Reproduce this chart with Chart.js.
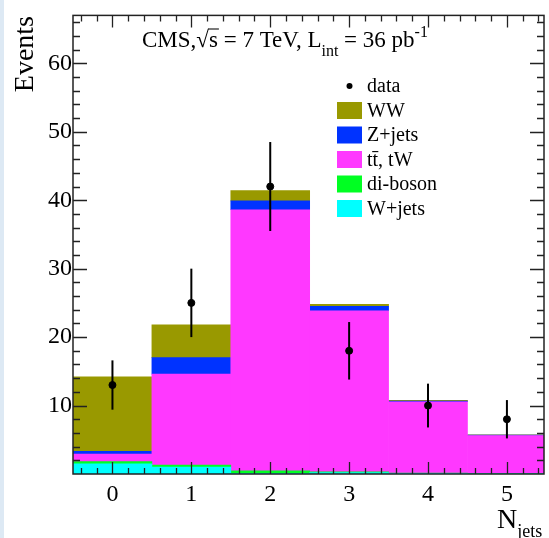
<!DOCTYPE html>
<html lang="en">
<head>
  <meta charset="UTF-8">
  <title>CMS N_jets distribution</title>
  <script src="https://cdn.jsdelivr.net/npm/chart.js"></script>
  <style>
    html, body { margin: 0; padding: 0; background: #fff; }
    canvas { display: block; }
  </style>
</head>
<body>
  <canvas id="njetsChart" width="549" height="538"></canvas>

  <script>
    // jet multiplicity bins
    const nJets = [0, 1, 2, 3, 4, 5];

    // observed events and their errors
    const dataCounts = [13, 25, 42, 18, 10, 8];
    const dataErrors = [3.6, 5.0, 6.5, 4.2, 3.2, 2.8];

    // stacked MC contributions, bottom to top
    const wJets   = [1.5, 1.0, 0.1, 0.2, 0.1, 0.05];
    const diBoson = [0.3, 0.3, 0.35, 0.1, 0.05, 0.03];
    const ttbarTW = [1.1, 13.3, 38.15, 23.55, 10.4, 5.55];
    const zJets   = [0.4, 2.4, 1.3, 0.65, 0.1, 0.05];
    const wwVals  = [10.9, 4.8, 1.5, 0.3, 0.12, 0.06];

    const yTicks = [10, 20, 30, 40, 50, 60];

    const SERIF = '"Liberation Serif", "DejaVu Serif", serif';
    const pts = arr => nJets.map((x, i) => ({ x: x, y: arr[i] }));

    function mcSet(label, vals, color) {
      return {
        type: 'bar',
        label: label,
        data: pts(vals),
        backgroundColor: color,
        borderWidth: 0,
        stack: 'mc',
        barPercentage: 1.0,
        categoryPercentage: 1.0
      };
    }

    // error bars on the data points
    const errorBars = {
      id: 'errorBars',
      afterDatasetsDraw(chart) {
        const { ctx, scales: { x, y } } = chart;
        ctx.save();
        ctx.strokeStyle = '#000';
        ctx.lineWidth = 2;
        nJets.forEach((n, i) => {
          const px = x.getPixelForValue(n);
          ctx.beginPath();
          ctx.moveTo(px, y.getPixelForValue(dataCounts[i] - dataErrors[i]));
          ctx.lineTo(px, y.getPixelForValue(dataCounts[i] + dataErrors[i]));
          ctx.stroke();
        });
        ctx.restore();
      }
    };

    // ROOT style frame with inward ticks on all four sides, titles, legend
    const rootFrame = {
      id: 'rootFrame',
      beforeDraw(chart) {
        const ctx = chart.ctx;
        ctx.save();
        ctx.fillStyle = '#dde9f4';
        ctx.fillRect(0, 0, 4, chart.height);
        ctx.restore();
      },
      afterDraw(chart) {
        const { ctx, chartArea: a, scales: { x, y } } = chart;
        ctx.save();
        ctx.strokeStyle = '#222';
        ctx.lineWidth = 1.5;
        ctx.strokeRect(a.left, a.top, a.right - a.left, a.bottom - a.top);

        ctx.lineWidth = 1.3;
        ctx.beginPath();
        for (let v = 2; v <= 66; v += 2) {
          const py = Math.round(y.getPixelForValue(v)) + 0.5;
          const len = v % 10 === 0 ? 14 : 7;
          ctx.moveTo(a.left, py); ctx.lineTo(a.left + len, py);
          ctx.moveTo(a.right, py); ctx.lineTo(a.right - len, py);
        }
        for (let k = -2; k <= 27; k++) {
          const v = k * 0.2;
          const px = Math.round(x.getPixelForValue(v)) + 0.5;
          const len = k % 5 === 0 ? 12 : 6;
          ctx.moveTo(px, a.bottom); ctx.lineTo(px, a.bottom - len);
          ctx.moveTo(px, a.top); ctx.lineTo(px, a.top + len);
        }
        ctx.stroke();

        ctx.fillStyle = '#000';
        ctx.textBaseline = 'alphabetic';

        // title
        let tx = 142;
        const ty = 47;
        const big = '23px ' + SERIF, small = '16px ' + SERIF;
        const put = (s, font, dy) => {
          ctx.font = font;
          ctx.fillText(s, tx, ty + (dy || 0));
          tx += ctx.measureText(s).width;
        };
        put('CMS,', big);
        put('\u221A', big);
        const sStart = tx;
        put('s', big);
        ctx.lineWidth = 1.2;
        ctx.beginPath();
        ctx.moveTo(sStart - 1, ty - 18);
        ctx.lineTo(tx + 1, ty - 18);
        ctx.stroke();
        put(' = 7 TeV, L', big);
        put('int', small, 9);
        put(' = 36 pb', big);
        put('-1', small, -10);

        // axis titles
        ctx.font = '28px ' + SERIF;
        ctx.save();
        ctx.translate(33, 16);
        ctx.rotate(-Math.PI / 2);
        ctx.textAlign = 'right';
        ctx.fillText('Events', 0, 0);
        ctx.restore();

        ctx.font = '28px ' + SERIF;
        ctx.fillText('N', 497, 528);
        const nw = ctx.measureText('N').width;
        ctx.font = '18px ' + SERIF;
        ctx.fillText('jets', 497 + nw, 537);

        // legend
        ctx.font = '20px ' + SERIF;
        ctx.textBaseline = 'middle';
        const rows = [0, 5, 4, 3, 2, 1];
        rows.forEach((di, r) => {
          const ds = chart.data.datasets[di];
          const cy = 86 + r * 24.5;
          if (di === 0) {
            ctx.beginPath();
            ctx.arc(349.5, cy, 3, 0, Math.PI * 2);
            ctx.fill();
          } else {
            ctx.fillStyle = ds.backgroundColor;
            ctx.fillRect(337, cy - 8.5, 25, 17);
            ctx.fillStyle = '#000';
          }
          ctx.fillText(ds.label, 367, cy + 1);
        });
        ctx.restore();
      }
    };

    new Chart(document.getElementById('njetsChart'), {
      type: 'bar',
      data: {
        datasets: [
          {
            type: 'scatter',
            label: 'data',
            data: pts(dataCounts),
            backgroundColor: '#000',
            borderColor: '#000',
            pointRadius: 3.5,
            stack: 'data'
          },
          mcSet('W+jets', wJets, '#00ffff'),
          mcSet('di-boson', diBoson, '#00ff22'),
          mcSet('t\u0074\u0304, tW', ttbarTW, '#ff38ff'),
          mcSet('Z+jets', zJets, '#0033ff'),
          mcSet('WW', wwVals, '#999900')
        ]
      },
      options: {
        responsive: false,
        animation: false,
        layout: { padding: { top: 12, right: 1, left: 0, bottom: 0 } },
        plugins: {
          legend: { display: false },
          tooltip: { enabled: false }
        },
        scales: {
          x: {
            type: 'linear',
            stacked: true,
            offset: false,
            min: -0.5,
            max: 5.47,
            grid: { display: false, drawTicks: false },
            border: { display: false },
            afterFit: s => { s.height = 64; },
            afterBuildTicks: s => { s.ticks = nJets.map(v => ({ value: v })); },
            ticks: {
              padding: 6,
              autoSkip: false,
              maxRotation: 0,
              color: '#000',
              font: { family: SERIF, size: 24 },
              callback: v => String(v)
            }
          },
          y: {
            stacked: true,
            min: 0,
            max: 67,
            grid: { display: false, drawTicks: false },
            border: { display: false },
            afterFit: s => { s.width = 73; },
            afterBuildTicks: s => { s.ticks = yTicks.map(v => ({ value: v })); },
            ticks: {
              padding: 1,
              autoSkip: false,
              color: '#000',
              font: { family: SERIF, size: 24 },
              callback: v => String(v)
            }
          }
        }
      },
      plugins: [errorBars, rootFrame]
    });
  </script>
</body>
</html>
